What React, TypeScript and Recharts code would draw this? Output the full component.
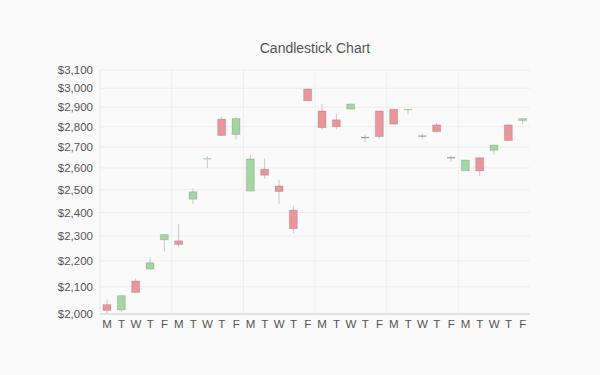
import React from 'react';
import { Bar, BarChart, CartesianGrid, ReferenceArea, XAxis, YAxis } from 'recharts';

const days = ['M', 'T', 'W', 'T', 'F', 'M', 'T', 'W', 'T', 'F', 'M', 'T', 'W', 'T', 'F',
  'M', 'T', 'W', 'T', 'F', 'M', 'T', 'W', 'T', 'F', 'M', 'T', 'W', 'T', 'F'];
const opens = [2034, 2015, 2122, 2168, 2285, 2281, 2458, 2641, 2838, 2761, 2494, 2594, 2517, 2410, 2996,
  2880, 2835, 2890, 2746, 2880, 2889, 2883, 2753, 2809, 2648, 2587, 2648, 2684, 2809, 2831];
const closes = [2013, 2067, 2079, 2193, 2307, 2266, 2491, 2643, 2756, 2841, 2642, 2566, 2492, 2331, 2933,
  2795, 2800, 2916, 2746, 2751, 2813, 2887, 2753, 2775, 2648, 2637, 2586, 2709, 2731, 2841];
const highs = [2053, 2068, 2131, 2215, 2309, 2352, 2506, 2655, 2852, 2846, 2662, 2645, 2546, 2430, 3000,
  2916, 2865, 2922, 2762, 2881, 2891, 2893, 2763, 2818, 2660, 2638, 2649, 2711, 2810, 2842];
const lows = [2000, 2007, 2078, 2167, 2238, 2255, 2436, 2600, 2753, 2736, 2493, 2549, 2436, 2311, 2932,
  2784, 2787, 2889, 2723, 2741, 2811, 2860, 2741, 2774, 2629, 2586, 2563, 2662, 2730, 2813];
const yTicks = [2000, 2100, 2200, 2300, 2400, 2500, 2600, 2700, 2800, 2900, 3000, 3100];

const data = days.map((day, i) => ({
  idx: i,
  day,
  open: opens[i],
  close: closes[i],
  high: highs[i],
  low: lows[i],
  range: [lows[i], highs[i]],
}));

const font = '"Liberation Sans", Arial, sans-serif';

function Candle(props: any) {
  const { x, y, width, height, payload } = props;
  const { open, close, high, low } = payload;
  const span = Math.log(high / low);
  // log scale: place open/close inside the [low, high] bar in log space
  const toY = (v: number) => y + height - (span > 0 ? (Math.log(v / low) / span) * height : 0);
  const cx = x + width / 2;
  const top = toY(Math.max(open, close));
  const bot = toY(Math.min(open, close));
  const fill = close > open ? '#a5d5a4' : close < open ? '#e8969b' : '#9a9a9a';
  const bodyH = bot - top;
  return (
    <g>
      <line x1={cx} x2={cx} y1={y} y2={y + height} stroke="#c8c8c8" strokeWidth={1} />
      {bodyH >= 1.5 ? (
        <rect x={x} y={top} width={width} height={bodyH} fill={fill} stroke="rgba(0,0,0,0.12)" strokeWidth={1} />
      ) : (
        <line x1={x} x2={x + width} y1={top} y2={top} stroke={fill} strokeWidth={1.2} />
      )}
    </g>
  );
}

export default function App() {
  return (
    <div style={{ position: 'fixed', left: 0, top: 0, width: 600, height: 375, background: '#fafafa' }}>
      <div
        style={{
          position: 'absolute',
          left: 100,
          width: 430,
          top: 40,
          textAlign: 'center',
          fontFamily: font,
          fontSize: 14,
          lineHeight: '16px',
          color: '#555',
        }}
      >
        Candlestick Chart
      </div>
      <BarChart width={600} height={375} data={data} margin={{ top: 70, right: 70, left: 0, bottom: 31 }}>
        <CartesianGrid
          stroke="#eeeeee"
          verticalCoordinatesGenerator={({ offset }: any) =>
            [1, 2, 3, 4, 5].map((k) => offset.left + (offset.width * k) / 6)
          }
        />
        <ReferenceArea fill="none" stroke="#ebebeb" strokeWidth={2} ifOverflow="visible" />
        <XAxis
          dataKey="idx"
          tickFormatter={(i: number) => days[i]}
          interval={0}
          tickLine={false}
          tickSize={0}
          tickMargin={6}
          height={30}
          axisLine={{ stroke: '#e2e2e2', strokeWidth: 2 }}
          tick={{ fill: '#555', fontSize: 11.5, fontFamily: font }}
        />
        <YAxis
          scale="log"
          type="number"
          domain={[2000, 3100]}
          ticks={yTicks}
          interval={0}
          allowDataOverflow
          width={100}
          tickLine={false}
          tickSize={0}
          tickMargin={7}
          axisLine={{ stroke: '#ebebeb' }}
          tickFormatter={(v: number) => `$${v.toLocaleString('en-US')}`}
          tick={{ fill: '#555', fontSize: 11.5, fontFamily: font }}
        />
        <Bar dataKey="range" barSize={8} shape={<Candle />} isAnimationActive={false} />
      </BarChart>
    </div>
  );
}
